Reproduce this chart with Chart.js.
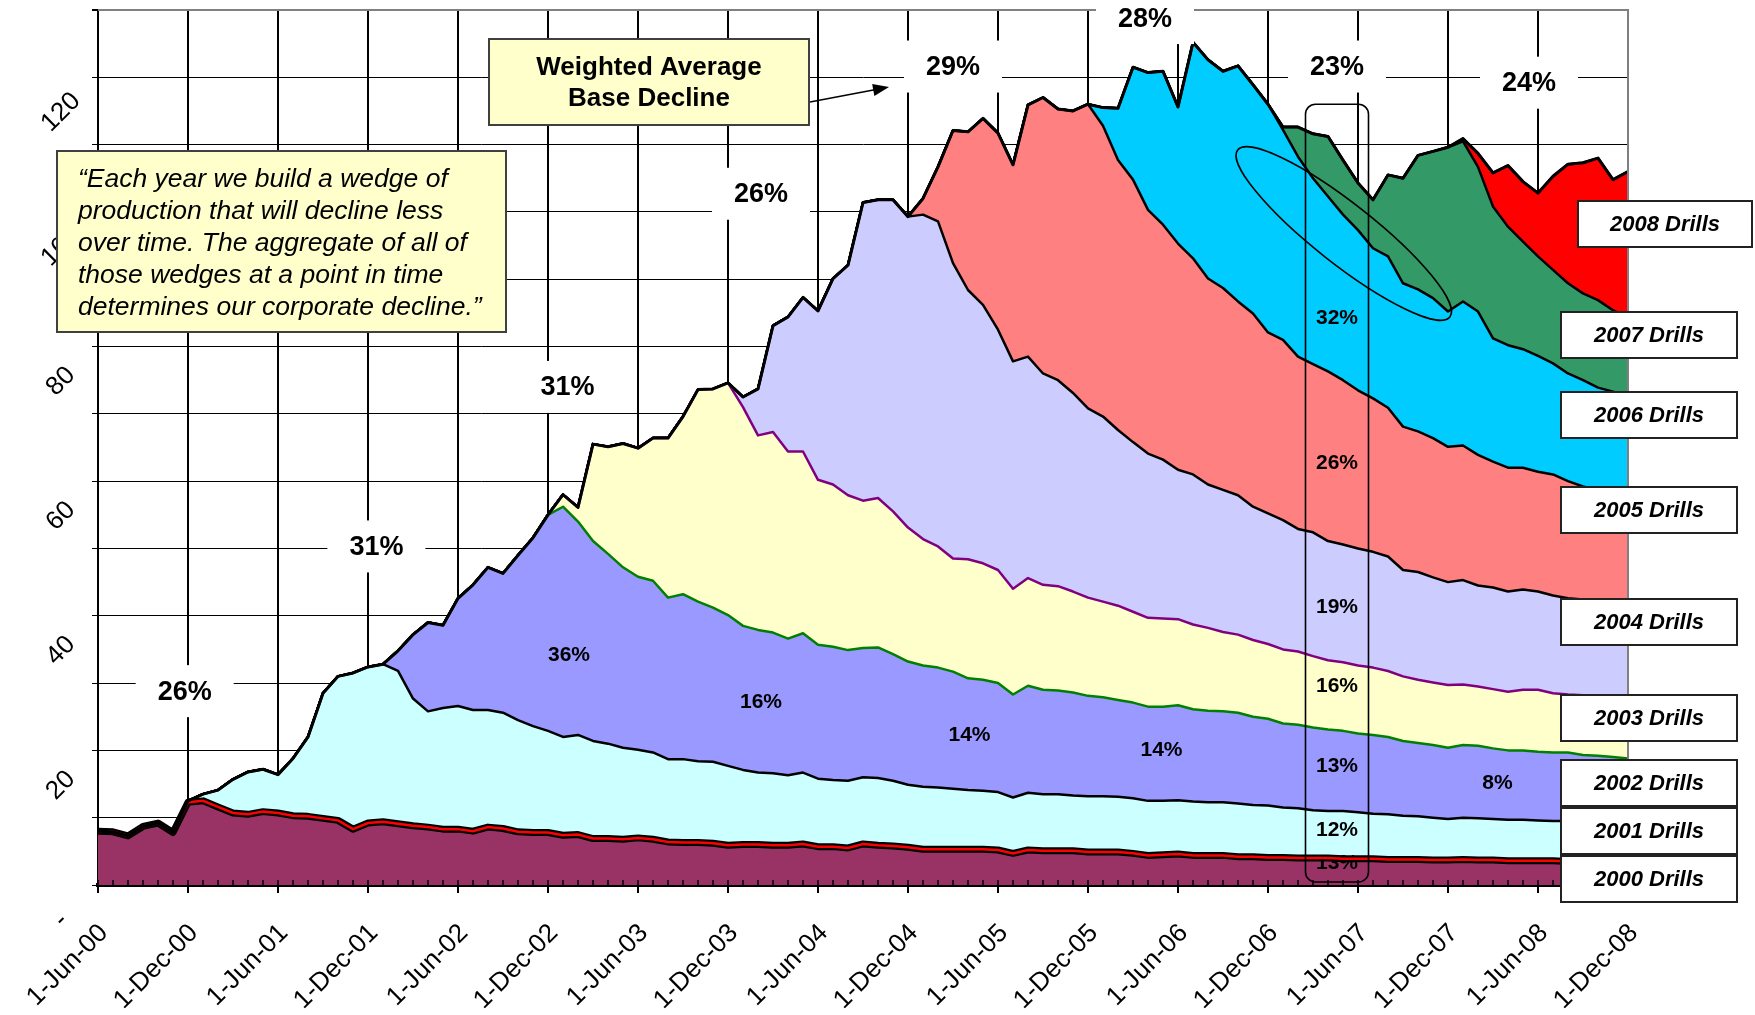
<!DOCTYPE html>
<html>
<head>
<meta charset="utf-8">
<script src="https://cdn.jsdelivr.net/npm/chart.js@4.4.0/dist/chart.umd.min.js"></script>
<style>
html,body{margin:0;padding:0;background:#fff;}
#wrap{width:1755px;height:1015px;position:relative;}
</style>
</head>
<body>
<div id="wrap"><canvas id="chart" width="1755" height="1015"></canvas></div>
<script>
// month categories, Jun-00 .. Dec-08
const monthNames = ['Jan','Feb','Mar','Apr','May','Jun','Jul','Aug','Sep','Oct','Nov','Dec'];
const labels = [];
for (let k = 0; k < 103; k++) {
  const m = (5 + k) % 12, yr = 2000 + Math.floor((5 + k) / 12);
  labels.push('1-' + monthNames[m] + '-' + String(yr).slice(2));
}

// production by drilling year
const s2000 = [8.0,7.9,7.3,8.7,9.2,7.8,12.3,12.5,11.6,10.7,10.5,10.9,10.7,10.3,10.2,9.9,9.6,8.3,9.2,9.4,
  9.1,8.8,8.6,8.3,8.3,8.0,8.6,8.4,7.9,7.8,7.8,7.4,7.5,6.9,6.9,6.8,7.0,6.8,6.4,6.3,
  6.3,6.2,5.9,6.0,6.0,5.9,5.9,6.1,5.7,5.7,5.5,6.1,5.9,5.8,5.6,5.3,5.3,5.3,5.3,5.3,
  5.2,4.7,5.2,5.1,5.1,5.1,4.9,4.9,4.9,4.7,4.4,4.5,4.6,4.4,4.4,4.4,4.2,4.2,4.1,4.1,
  4.0,4.0,4.0,3.9,3.9,3.9,3.8,3.8,3.8,3.7,3.7,3.8,3.7,3.7,3.6,3.6,3.6,3.6,3.5,3.5,
  3.5,3.5,3.5];
const s2001 = [0,0,0,0,0,0,0.2,1.0,2.5,5.0,6.3,6.3,5.7,8.5,11.8,18.6,21.4,23.2,23.2,23.4,
  22.7,18.9,17.2,18.0,18.3,18.0,17.4,17.2,16.6,15.8,15.1,14.6,14.8,14.5,14.1,13.6,13.1,12.9,12.3,12.4,
  12.1,12.1,11.8,11.1,10.7,10.7,10.4,10.6,10.1,9.9,10.0,9.9,10.0,9.7,9.3,9.3,9.2,9.0,8.8,8.7,
  8.6,8.3,8.5,8.4,8.4,8.2,8.3,8.3,8.2,8.2,8.1,8.0,8.0,8.0,7.9,7.9,7.9,7.7,7.7,7.4,
  7.4,7.1,7.0,7.1,6.9,6.7,6.7,6.5,6.4,6.3,6.1,6.2,6.2,6.1,6.1,6.1,6.0,5.9,6.0,5.9,
  5.9,5.8,5.8];
const s2002 = [0,0,0,0,0,0,0,0,0,0,0,0,0,0,0,0,0,0,0,0,
  3.0,9.5,13.2,12.3,16.0,18.6,21.2,20.7,24.5,28.0,32.1,34.2,31.7,29.7,28.2,26.8,25.7,25.5,24.0,24.5,
  23.7,22.9,22.4,21.4,21.2,20.9,20.3,20.7,19.9,19.8,19.4,19.2,19.4,18.8,18.3,18.0,17.8,17.4,16.6,16.5,
  16.2,15.3,15.9,15.5,15.4,15.3,14.9,14.7,14.4,14.2,14.0,14.0,14.1,13.7,13.6,13.5,13.5,13.1,12.9,12.5,
  12.4,12.3,12.1,11.9,11.7,11.7,11.5,11.1,10.9,10.8,10.6,10.8,10.8,10.5,10.3,10.3,10.2,10.2,10.2,9.9,
  9.8,9.7,9.5];
const s2003 = [0,0,0,0,0,0,0,0,0,0,0,0,0,0,0,0,0,0,0,0,
  0,0,0,0,0,0,0,0,0,0,0,1.8,2.1,14.4,15.9,18.4,19.1,21.2,23.7,26.4,
  31.5,32.5,34.5,32.5,28.9,29.8,27.8,27.0,24.5,24.1,23.0,21.9,22.2,21.2,19.9,18.8,18.0,16.8,17.7,17.3,
  16.8,15.7,16.0,15.6,15.5,15.0,14.6,14.2,14.0,13.5,13.2,13.1,12.8,12.6,12.3,11.8,11.6,11.4,11.1,11.0,
  10.9,10.6,10.3,10.2,10.1,10.0,9.8,9.6,9.4,9.3,9.3,9.0,8.8,8.8,8.7,9.0,9.2,8.8,8.6,8.9,
  8.9,9.0,9.1];
const s2004 = [0,0,0,0,0,0,0,0,0,0,0,0,0,0,0,0,0,0,0,0,
  0,0,0,0,0,0,0,0,0,0,0,0,0,0,0,0,0,0,0,0,
  0,0,0,1.5,6.9,15.8,20.0,22.9,25.1,30.6,34.2,44.3,44.3,46.3,46.2,48.2,48.3,43.9,40.0,38.4,
  35.7,33.8,32.9,31.4,30.6,29.5,28.1,27.5,26.1,25.2,24.4,23.6,22.2,22.3,21.3,21.1,20.7,19.8,19.4,19.2,
  18.2,18.4,17.7,17.5,17.4,17.2,17.0,15.8,16.0,15.6,15.3,15.5,15.0,15.1,14.9,14.9,14.6,14.5,14.3,14.2,
  14.1,14.0,13.9];
const s2005 = [0,0,0,0,0,0,0,0,0,0,0,0,0,0,0,0,0,0,0,0,
  0,0,0,0,0,0,0,0,0,0,0,0,0,0,0,0,0,0,0,0,
  0,0,0,0,0,0,0,0,0,0,0,0,0,0,0,2.4,8.1,19.7,23.5,27.7,
  29.2,29.2,37.4,41.0,40.3,41.9,45.2,43.2,40.1,39.0,36.2,34.9,33.6,32.1,30.6,30.0,28.8,28.7,26.9,26.8,
  25.6,25.0,25.2,24.4,23.5,22.8,22.1,21.3,20.9,20.7,20.1,20.0,19.4,18.7,18.4,18.1,17.8,18.0,17.4,16.8,
  16.4,16.2,16.0];
const s2006 = [0,0,0,0,0,0,0,0,0,0,0,0,0,0,0,0,0,0,0,0,
  0,0,0,0,0,0,0,0,0,0,0,0,0,0,0,0,0,0,0,0,
  0,0,0,0,0,0,0,0,0,0,0,0,0,0,0,0,0,0,0,0,
  0,0,0,0,0,0,0,2.7,7.7,16.7,20.4,22.8,20.3,32.1,32.5,32.2,35.0,34.0,33.9,31.2,
  29.7,27.6,26.0,24.6,23.8,22.3,22.5,21.3,21.1,20.8,20.1,21.4,21.3,18.3,18.2,17.6,17.2,16.5,16.0,15.8,
  15.3,15.1,14.8];
const s2007 = [0,0,0,0,0,0,0,0,0,0,0,0,0,0,0,0,0,0,0,0,
  0,0,0,0,0,0,0,0,0,0,0,0,0,0,0,0,0,0,0,0,
  0,0,0,0,0,0,0,0,0,0,0,0,0,0,0,0,0,0,0,0,
  0,0,0,0,0,0,0,0,0,0,0,0,0,0,0,0,0,0,0,0.4,
  4.4,6.6,8.9,8.1,7.0,7.2,12.1,15.6,19.9,21.8,24.4,23.8,21.5,19.6,17.6,16.0,14.8,13.9,13.4,12.9,
  13.0,12.1,11.6];
const s2008 = [0,0,0,0,0,0,0,0,0,0,0,0,0,0,0,0,0,0,0,0,
  0,0,0,0,0,0,0,0,0,0,0,0,0,0,0,0,0,0,0,0,
  0,0,0,0,0,0,0,0,0,0,0,0,0,0,0,0,0,0,0,0,
  0,0,0,0,0,0,0,0,0,0,0,0,0,0,0,0,0,0,0,0,
  0,0,0,0,0,0,0,0,0,0,0,0.4,2.0,5.0,9.1,8.9,9.4,13.9,17.7,19.4,
  21.1,19.4,21.8];

const seriesData = [s2000,s2001,s2002,s2003,s2004,s2005,s2006,s2007,s2008];
const seriesNames = ['2000 Drills','2001 Drills','2002 Drills','2003 Drills','2004 Drills','2005 Drills','2006 Drills','2007 Drills','2008 Drills'];
const fillColors = ['#993366','#CCFFFF','#9999FF','#FFFFCC','#CCCCFF','#FF8080','#00CCFF','#339966','#FF0000'];
const lineColors = ['#000000','#000000','#008000','#800080','#000000','#000000','#000000','#000000','#000000'];

// weighted average base decline by year
const yearPct  = ['26%','31%','31%','26%','29%','28%','23%','24%'];
const yearPctX = [5.78, 18.56, 31.3, 44.2, 57.0, 69.8, 82.6, 95.4];
const yearPctY = [28.8, 50.3, 74.0, 102.7, 121.6, 128.8, 121.6, 119.2];

// decline of each wedge
const innerPct = ['36%','16%','14%','14%','32%','26%','19%','16%','13%','12%','13%','8%'];
const innerX   = [31.4, 44.2, 58.1, 70.9, 82.6, 82.6, 82.6, 82.6, 82.6, 82.6, 82.6, 93.3];
const innerY   = [34.2, 27.1, 22.3, 20.0, 84.2, 62.7, 41.3, 29.5, 17.6, 8.1, 3.2, 15.1];

const quoteLines = ['\u201CEach year we build a wedge of','production that will decline less',
  'over time. The aggregate of all of','those wedges at a point in time','determines our corporate decline.\u201D'];
const titleLines = ['Weighted Average','Base Decline'];

const total = labels.map((_, i) => seriesData.reduce((a, s) => a + s[i], 0));

const FONT = '"Liberation Sans", Arial, sans-serif';

const datasets = seriesData.map((d, k) => ({
  label: seriesNames[k], data: d,
  backgroundColor: fillColors[k], borderColor: lineColors[k],
  borderWidth: k === 0 ? 7 : 2.5,
  fill: k === 0 ? 'origin' : '-1',
  pointRadius: 0, tension: 0, borderJoinStyle: 'round', order: 2
}));
// red stripe on top of the 2000 wedge and black outline of the total
datasets.push({ label: 'r', data: s2000, stack: 'red', borderColor: '#FF0000', borderWidth: 2.5,
  fill: false, pointRadius: 0, tension: 0, order: 1 });
datasets.push({ label: 't', data: total, stack: 'tot', borderColor: '#000', borderWidth: 3,
  fill: false, pointRadius: 0, tension: 0, borderJoinStyle: 'round', order: 0 });

function box(ctx, x, y, w, h, fill, stroke, lw) {
  ctx.fillStyle = fill; ctx.fillRect(x, y, w, h);
  if (stroke) { ctx.strokeStyle = stroke; ctx.lineWidth = lw; ctx.strokeRect(x, y, w, h); }
}

const annotate = {
  id: 'annotate',
  afterDatasetDraw(chart, args) {
    if (args.index !== 0) return;
    const {ctx, scales: {x, y}} = chart;
    ctx.save();
    ctx.font = 'bold 21px ' + FONT;
    ctx.fillStyle = '#000'; ctx.textAlign = 'center'; ctx.textBaseline = 'middle';
    innerPct.forEach((t, k) => ctx.fillText(t, x.getPixelForValue(innerX[k]), y.getPixelForValue(innerY[k])));
    ctx.restore();
  },
  afterDatasetsDraw(chart) {
    const {ctx, chartArea, scales: {x}} = chart;
    ctx.save();
    ctx.strokeStyle = '#000'; ctx.lineWidth = 1.5;
    ctx.beginPath();
    for (let k = 0; k < labels.length; k++) {
      const px = x.getPixelForValue(k);
      ctx.moveTo(px, chartArea.bottom); ctx.lineTo(px, chartArea.bottom - 5);
    }
    ctx.stroke();
    // top and right frame
    ctx.strokeStyle = '#808080'; ctx.lineWidth = 2;
    ctx.beginPath();
    ctx.moveTo(chartArea.left, chartArea.top); ctx.lineTo(chartArea.right, chartArea.top);
    ctx.lineTo(chartArea.right, chartArea.bottom);
    ctx.stroke();
    ctx.restore();
  },
  afterDraw(chart) {
    const {ctx, chartArea, scales: {x, y}} = chart;
    ctx.save();
    // y tick labels
    ctx.font = '26px ' + FONT; ctx.fillStyle = '#000';
    ctx.textAlign = 'center'; ctx.textBaseline = 'middle';
    y.ticks.forEach(t => {
      if (t.value % 20 !== 0) return;
      const txt = t.value === 0 ? '-' : String(t.value);
      ctx.save();
      ctx.translate(chartArea.left - 37, y.getPixelForValue(t.value) + 35);
      ctx.rotate(-Math.PI / 4);
      ctx.fillText(txt, 0, 0);
      ctx.restore();
    });
    // x tick labels
    ctx.font = '26px ' + FONT; ctx.textAlign = 'right';
    x.ticks.forEach((t, k) => {
      if (k % 6 !== 0) return;
      ctx.save();
      ctx.translate(x.getPixelForValue(k) + 6, chartArea.bottom + 44);
      ctx.rotate(-Math.PI / 4);
      ctx.fillText(labels[k], 0, 0);
      ctx.restore();
    });
    // yearly weighted decline labels on white
    ctx.font = 'bold 27px ' + FONT; ctx.textAlign = 'center';
    yearPct.forEach((t, k) => {
      const px = x.getPixelForValue(yearPctX[k]), py = y.getPixelForValue(yearPctY[k]);
      box(ctx, px - 49, py - 26, 98, 52, '#fff');
      ctx.fillStyle = '#000'; ctx.fillText(t, px, py + 1);
    });
    // title box + arrow
    box(ctx, 489, 39, 320, 86, '#FFFFCC', '#404040', 2);
    ctx.fillStyle = '#000'; ctx.font = 'bold 26px ' + FONT;
    ctx.fillText(titleLines[0], 649, 68); ctx.fillText(titleLines[1], 649, 99);
    ctx.strokeStyle = '#000'; ctx.lineWidth = 1.5;
    ctx.beginPath(); ctx.moveTo(810, 102); ctx.lineTo(876, 89.5); ctx.stroke();
    ctx.save(); ctx.translate(889, 87); ctx.rotate(Math.atan2(-15, 79));
    ctx.beginPath(); ctx.moveTo(0, 0); ctx.lineTo(-16, -6); ctx.lineTo(-16, 6); ctx.closePath();
    ctx.fillStyle = '#000'; ctx.fill(); ctx.restore();
    // quote box
    box(ctx, 57, 151, 449, 181, '#FFFFCC', '#404040', 2);
    ctx.fillStyle = '#000'; ctx.font = 'italic 26.5px ' + FONT; ctx.textAlign = 'left';
    quoteLines.forEach((l, k) => ctx.fillText(l, 78, 180 + k * 32));
    // highlight: rounded column around mid 2007 and ellipse
    ctx.strokeStyle = '#000'; ctx.lineWidth = 1.6;
    const rx0 = x.getPixelForValue(80.5), rx1 = x.getPixelForValue(84.7);
    const ry0 = y.getPixelForValue(116), ry1 = y.getPixelForValue(0.45);
    ctx.beginPath(); ctx.roundRect(rx0, ry0, rx1 - rx0, ry1 - ry0, 10); ctx.stroke();
    ctx.beginPath();
    ctx.ellipse(x.getPixelForValue(83.05), y.getPixelForValue(96.8), 135, 30, 38.2 * Math.PI / 180, 0, Math.PI * 2);
    ctx.stroke();
    // series name boxes
    const boxTops = [856, 808, 760, 695, 599, 487, 392, 312, 201];
    ctx.font = 'bold italic 22px ' + FONT; ctx.textAlign = 'center';
    seriesNames.forEach((n, k) => {
      const bx = k === 8 ? 1578 : 1561, bw = k === 8 ? 174 : 176;
      box(ctx, bx, boxTops[k], bw, 46, '#fff', '#222', 2);
      ctx.fillStyle = '#000'; ctx.fillText(n, bx + bw / 2, boxTops[k] + 24);
    });
    // page number (cut off)
    ctx.fillStyle = '#777'; ctx.font = '22px ' + FONT;
    ctx.fillText('10', 1702, 1028);
    ctx.restore();
  }
};

new Chart(document.getElementById('chart'), {
  type: 'line',
  data: { labels, datasets },
  options: {
    responsive: false, animation: false, devicePixelRatio: 1,
    layout: { padding: { left: 92, right: 127, top: 10, bottom: 122 } },
    plugins: { legend: { display: false }, tooltip: { enabled: false } },
    scales: {
      x: {
        offset: false,
        ticks: { display: false, autoSkip: false },
        grid: {
          color: c => c.index % 6 === 0 ? (c.index === 102 ? '#808080' : '#000') : 'rgba(0,0,0,0)',
          tickColor: c => c.index % 6 === 0 ? '#000' : 'rgba(0,0,0,0)',
          lineWidth: 2, tickLength: 8
        },
        border: { color: '#000', width: 4 }
      },
      y: {
        stacked: true, min: 0, max: 130,
        ticks: { display: false, stepSize: 10 },
        grid: {
          color: c => c.tick && c.tick.value === 130 ? '#808080' : '#000',
          lineWidth: c => c.tick && c.tick.value === 130 ? 2 : 1,
          tickColor: '#000', tickLength: 6
        },
        border: { color: '#000', width: 2 }
      }
    }
  },
  plugins: [annotate]
});
</script>
</body>
</html>
